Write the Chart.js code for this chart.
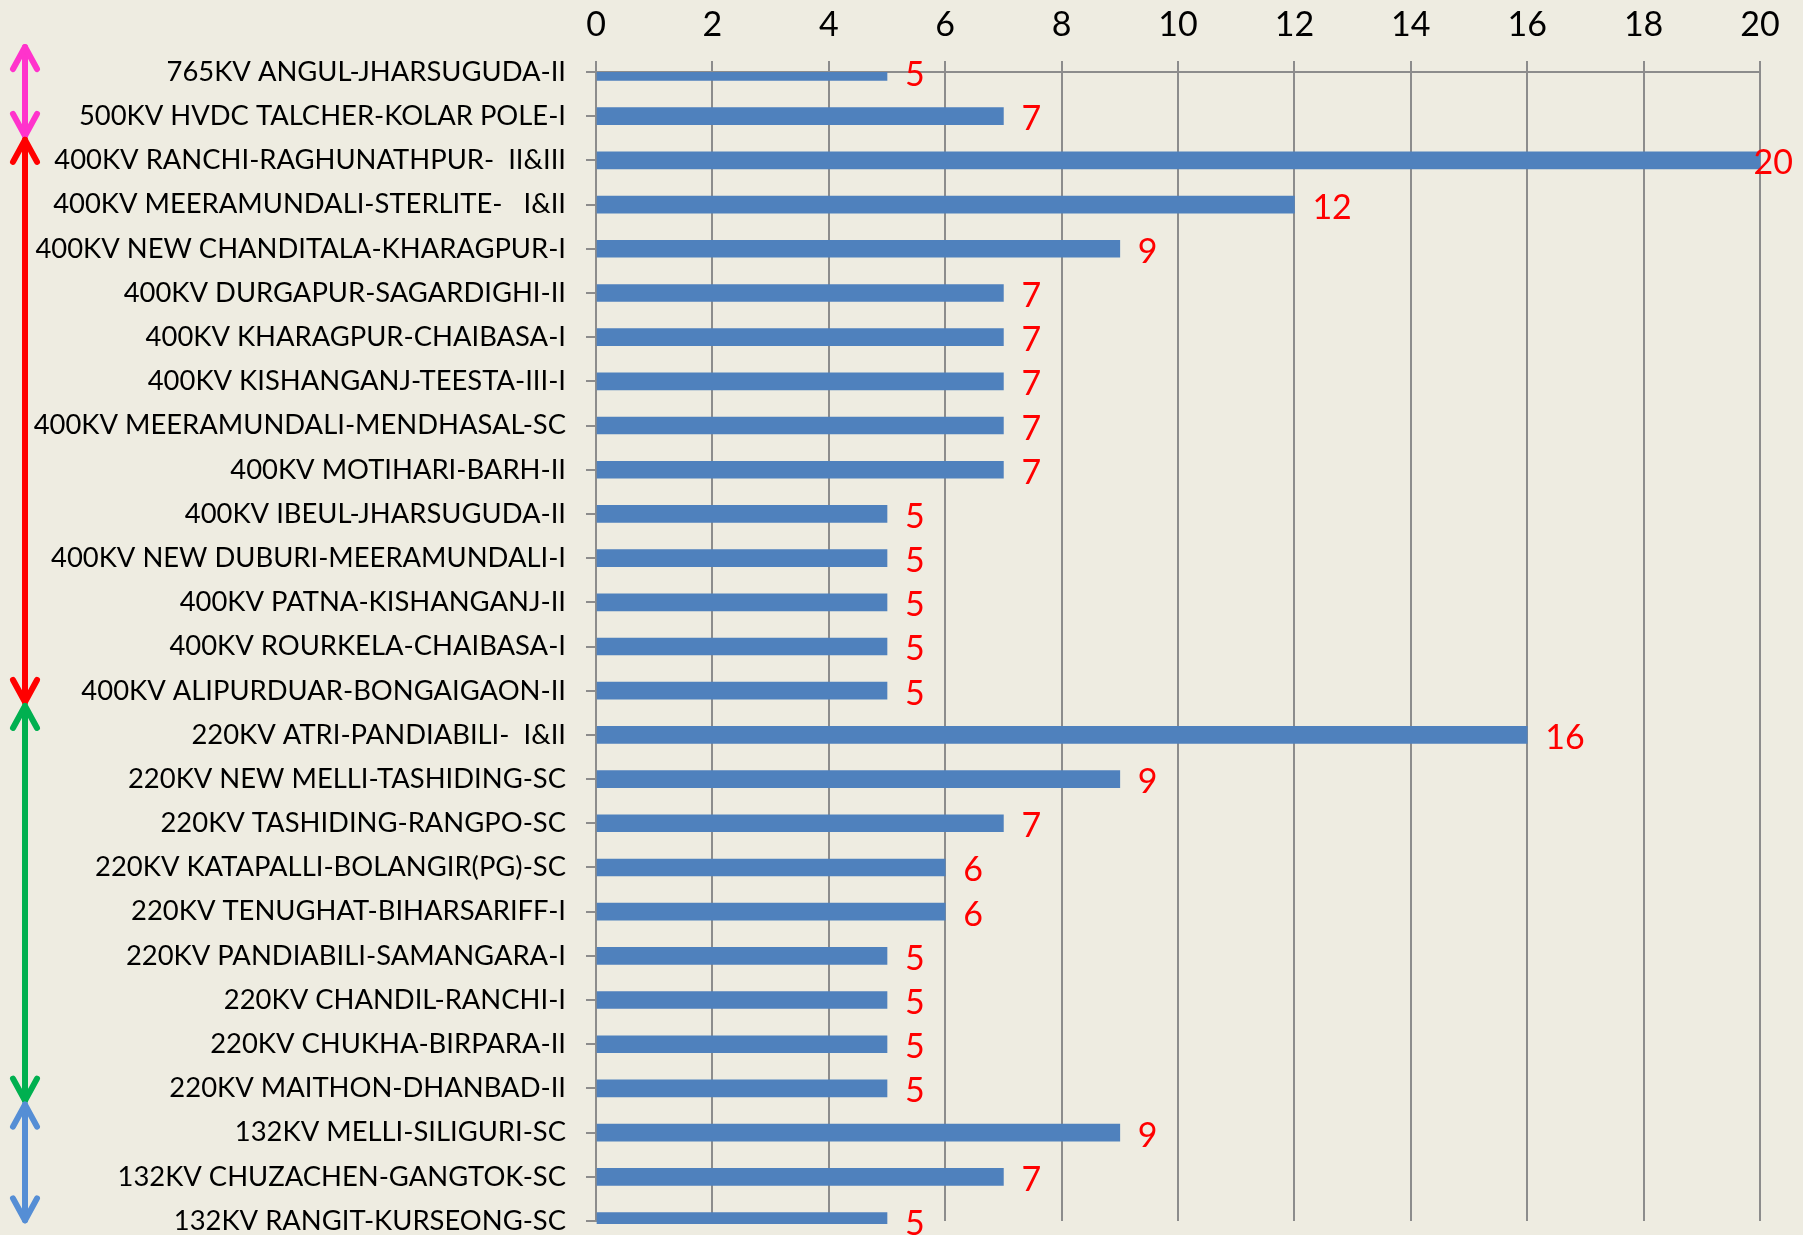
<!DOCTYPE html>
<html>
<head>
<meta charset="utf-8">
<script src="https://cdn.jsdelivr.net/npm/chart.js@4.4.1/dist/chart.umd.min.js"></script>
<style>
  html, body { margin: 0; padding: 0; background: #eeece1; overflow: hidden; }
  canvas { display: block; }
</style>
</head>
<body>
<canvas id="chart" width="1803" height="1235"></canvas>
<script>
// Line outages (count) by transmission line
const lines = [
    '765KV ANGUL-JHARSUGUDA-II',
    '500KV HVDC TALCHER-KOLAR POLE-I',
    '400KV RANCHI-RAGHUNATHPUR-  II&III',
    '400KV MEERAMUNDALI-STERLITE-   I&II',
    '400KV NEW CHANDITALA-KHARAGPUR-I',
    '400KV DURGAPUR-SAGARDIGHI-II',
    '400KV KHARAGPUR-CHAIBASA-I',
    '400KV KISHANGANJ-TEESTA-III-I',
    '400KV MEERAMUNDALI-MENDHASAL-SC',
    '400KV MOTIHARI-BARH-II',
    '400KV IBEUL-JHARSUGUDA-II',
    '400KV NEW DUBURI-MEERAMUNDALI-I',
    '400KV PATNA-KISHANGANJ-II',
    '400KV ROURKELA-CHAIBASA-I',
    '400KV ALIPURDUAR-BONGAIGAON-II',
    '220KV ATRI-PANDIABILI-  I&II',
    '220KV NEW MELLI-TASHIDING-SC',
    '220KV TASHIDING-RANGPO-SC',
    '220KV KATAPALLI-BOLANGIR(PG)-SC',
    '220KV TENUGHAT-BIHARSARIFF-I',
    '220KV PANDIABILI-SAMANGARA-I',
    '220KV CHANDIL-RANCHI-I',
    '220KV CHUKHA-BIRPARA-II',
    '220KV MAITHON-DHANBAD-II',
    '132KV MELLI-SILIGURI-SC',
    '132KV CHUZACHEN-GANGTOK-SC',
    '132KV RANGIT-KURSEONG-SC'
];
const counts = [5, 7, 20, 12, 9, 7, 7, 7, 7, 7, 5, 5, 5, 5, 5, 16, 9, 7, 6, 6, 5, 5, 5, 5, 9, 7, 5];

const xTicks = [0, 2, 4, 6, 8, 10, 12, 14, 16, 18, 20];

// voltage groups marked with arrows on the left (category index ranges)
const groupFrom = [-0.61, 1.49, 14.3, 23.32];
const groupTo = [1.49, 14.3, 23.32, 26.03];
const groupColors = ['#ff33cc', '#ff0000', '#00b050', '#558ed5'];

const FONT = 'Lato, "Open Sans", sans-serif';
const gridColor = '#8c8c8c';

// fit category label size to the width the labels take in the original
function fitLabelSize() {
    const ctx = document.createElement('canvas').getContext('2d');
    ctx.font = '30px ' + FONT;
    const w = ctx.measureText('400KV MEERAMUNDALI-MENDHASAL-SC').width;
    return Math.round(30 * 533 / w * 10) / 10;
}
const labelSize = fitLabelSize();

const valueLabels = {
    id: 'valueLabels',
    afterDatasetsDraw(chart) {
        const ctx = chart.ctx;
        const meta = chart.getDatasetMeta(0);
        ctx.save();
        ctx.font = '34px ' + FONT;
        ctx.fillStyle = '#ff0000';
        ctx.textBaseline = 'middle';
        ctx.textAlign = 'left';
        meta.data.forEach((bar, i) => {
            const txt = String(counts[i]);
            const tw = ctx.measureText(txt).width;
            const x = Math.min(bar.x + 18, chart.width - 10 - tw);
            ctx.fillText(txt, x, bar.y + 3);
        });
        ctx.restore();
    }
};

const groupArrows = {
    id: 'groupArrows',
    afterDraw(chart) {
        const ctx = chart.ctx;
        const y = chart.scales.y;
        const x = 25;
        ctx.save();
        ctx.lineWidth = 6;
        ctx.lineCap = 'round';
        ctx.lineJoin = 'round';
        groupFrom.forEach((from, i) => {
            const top = y.getPixelForValue(from);
            const bot = y.getPixelForValue(groupTo[i]);
            ctx.strokeStyle = groupColors[i];
            ctx.beginPath();
            ctx.moveTo(x, top + 2);
            ctx.lineTo(x, bot - 2);
            ctx.stroke();
            ctx.beginPath();
            ctx.moveTo(x - 12, top + 24);
            ctx.lineTo(x, top + 2);
            ctx.lineTo(x + 12, top + 24);
            ctx.moveTo(x - 12, bot - 24);
            ctx.lineTo(x, bot - 2);
            ctx.lineTo(x + 12, bot - 24);
            ctx.stroke();
        });
        ctx.restore();
    }
};

new Chart(document.getElementById('chart'), {
    type: 'bar',
    data: {
        labels: lines,
        datasets: [{
            data: counts,
            backgroundColor: '#4f81bd',
            borderWidth: 0,
            barThickness: 17,
            clip: { left: 0, top: 0, right: 10, bottom: 3 }
        }]
    },
    options: {
        indexAxis: 'y',
        responsive: false,
        animation: false,
        layout: { padding: { left: 0, right: 43, top: 0, bottom: 14 } },
        plugins: {
            legend: { display: false },
            tooltip: { enabled: false }
        },
        scales: {
            x: {
                position: 'top',
                min: 0,
                max: 20,
                afterBuildTicks: (scale) => { scale.ticks = xTicks.map(v => ({ value: v })); },
                afterFit: (scale) => { scale.height = 72; },
                ticks: {
                    color: '#000000',
                    font: { family: FONT, size: 34 },
                    padding: 16,
                    maxRotation: 0
                },
                grid: {
                    color: gridColor,
                    lineWidth: 2,
                    tickLength: 11
                },
                border: { display: true, color: gridColor, width: 2 }
            },
            y: {
                offset: false,
                afterFit: (scale) => {
                    scale.width = 596;
                    scale.paddingTop = 0;
                    scale.paddingBottom = 0;
                },
                ticks: {
                    color: '#000000',
                    font: { family: FONT, size: labelSize },
                    padding: 20,
                    autoSkip: false
                },
                grid: {
                    offset: false,
                    drawOnChartArea: false,
                    drawTicks: true,
                    tickLength: 10,
                    color: gridColor,
                    lineWidth: 2
                },
                border: { display: true, color: gridColor, width: 2 }
            }
        }
    },
    plugins: [valueLabels, groupArrows]
});
</script>
</body>
</html>
